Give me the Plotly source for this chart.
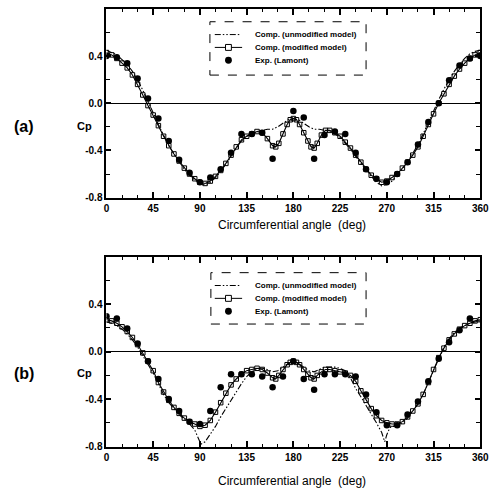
import plotly.graph_objects as go

# ---------------- data: panel (a) ----------------
exp_a_x = [0, 10, 20, 30, 40, 50, 60, 70, 80, 90, 100, 110, 120, 130, 140, 150, 160,
           180, 190, 200, 210, 220, 230, 240, 250, 260, 270, 280, 290, 300, 310, 320,
           330, 340, 350, 360]
exp_a_y = [0.40, 0.39, 0.34, 0.21, 0.04, -0.13, -0.32, -0.48, -0.59, -0.67, -0.63, -0.56,
           -0.42, -0.26, -0.26, -0.25, -0.47, -0.065, -0.12, -0.47, -0.27, -0.24, -0.26,
           -0.42, -0.56, -0.64, -0.67, -0.60, -0.50, -0.35, -0.16, 0.0, 0.195, 0.32, 0.38, 0.40]

mod_a_x = [0, 5, 10, 15, 20, 25, 30, 35, 40, 45, 50, 55, 60, 65, 70, 75, 80, 85, 90, 95,
           100, 105, 110, 115, 120, 125, 130, 135, 140, 145, 150, 155, 160, 163, 166, 170,
           174, 177, 180, 183, 186, 190, 194, 197, 200, 203, 207, 211, 215, 220, 225, 230,
           235, 240, 245, 250, 255, 260, 265, 270, 275, 280, 285, 290, 295, 300, 305, 310,
           315, 320, 325, 330, 335, 340, 345, 350, 355, 360]
mod_a_y = [0.43, 0.41, 0.38, 0.34, 0.30, 0.24, 0.16, 0.07, -0.02, -0.10, -0.19, -0.28,
           -0.36, -0.43, -0.49, -0.55, -0.60, -0.64, -0.67, -0.68, -0.66, -0.62, -0.57,
           -0.51, -0.44, -0.37, -0.31, -0.28, -0.26, -0.24, -0.25, -0.30, -0.36, -0.37,
           -0.34, -0.26, -0.18, -0.14, -0.13, -0.14, -0.18, -0.25, -0.32, -0.37, -0.38,
           -0.34, -0.27, -0.23, -0.23, -0.25, -0.28, -0.33, -0.38, -0.44, -0.50, -0.56,
           -0.61, -0.64, -0.67, -0.66, -0.63, -0.60, -0.55, -0.50, -0.44, -0.37, -0.28,
           -0.18, -0.09, 0.00, 0.08, 0.16, 0.23, 0.29, 0.34, 0.38, 0.41, 0.43]

unm_a_x = [0, 5, 10, 15, 20, 25, 30, 35, 40, 45, 50, 55, 60, 65, 70, 75, 80, 85, 90, 95,
           100, 105, 110, 115, 120, 125, 130, 135, 140, 145, 150, 155, 160, 165, 170, 175,
           180, 185, 190, 195, 200, 205, 210, 215, 220, 225, 230, 235, 240, 245, 250, 255,
           260, 265, 270, 275, 280, 285, 290, 295, 300, 305, 310, 315, 320, 325, 330, 335,
           340, 345, 350, 355, 360]
unm_a_y = [0.45, 0.43, 0.41, 0.37, 0.33, 0.27, 0.20, 0.11, 0.02, -0.08, -0.18, -0.27,
           -0.36, -0.43, -0.50, -0.56, -0.61, -0.65, -0.68, -0.69, -0.67, -0.63, -0.58,
           -0.52, -0.45, -0.38, -0.32, -0.28, -0.26, -0.24, -0.23, -0.22, -0.22, -0.20,
           -0.17, -0.14, -0.13, -0.14, -0.17, -0.20, -0.22, -0.22, -0.23, -0.24, -0.26,
           -0.29, -0.34, -0.39, -0.45, -0.51, -0.57, -0.62, -0.67, -0.70, -0.69, -0.66,
           -0.61, -0.56, -0.50, -0.43, -0.35, -0.26, -0.16, -0.06, 0.03, 0.12, 0.20, 0.27,
           0.33, 0.38, 0.42, 0.44, 0.45]

# ---------------- data: panel (b) ----------------
exp_b_x = [0, 10, 20, 30, 40, 50, 60, 70, 80, 90, 100, 110, 120, 130, 140, 150, 160, 170,
           180, 190, 200, 210, 220, 230, 240, 250, 260, 270, 280, 290, 300, 310, 320, 330,
           340, 350]
exp_b_y = [0.30, 0.28, 0.195, 0.07, -0.08, -0.23, -0.40, -0.50, -0.59, -0.61, -0.50, -0.30,
           -0.19, -0.19, -0.19, -0.21, -0.30, -0.21, -0.08, -0.23, -0.32, -0.19, -0.19,
           -0.19, -0.21, -0.36, -0.51, -0.62, -0.62, -0.53, -0.42, -0.25, -0.06, 0.08,
           0.18, 0.28]

mod_b_x = mod_a_x
mod_b_y = [0.27, 0.26, 0.24, 0.21, 0.17, 0.12, 0.06, -0.01, -0.08, -0.16, -0.26, -0.34,
           -0.41, -0.47, -0.52, -0.56, -0.59, -0.61, -0.63, -0.62, -0.58, -0.51, -0.43,
           -0.35, -0.28, -0.23, -0.19, -0.16, -0.15, -0.14, -0.15, -0.18, -0.22, -0.23,
           -0.20, -0.15, -0.11, -0.09, -0.08, -0.09, -0.11, -0.15, -0.19, -0.22, -0.23,
           -0.20, -0.17, -0.15, -0.15, -0.16, -0.17, -0.18, -0.20, -0.25, -0.33, -0.41,
           -0.48, -0.54, -0.58, -0.60, -0.61, -0.61, -0.59, -0.55, -0.50, -0.44, -0.36,
           -0.26, -0.15, -0.05, 0.03, 0.10, 0.15, 0.19, 0.22, 0.24, 0.26, 0.27]

unm_b_x = [0, 5, 10, 15, 20, 25, 30, 35, 40, 45, 50, 55, 60, 65, 70, 75, 80, 85, 88, 91,
           95, 100, 105, 110, 115, 120, 125, 130, 135, 140, 145, 150, 155, 160, 165, 170,
           175, 180, 185, 190, 195, 200, 205, 210, 215, 220, 225, 230, 235, 240, 245, 250,
           255, 260, 265, 268, 270, 273, 280, 285, 290, 295, 300, 305, 310, 315, 320, 325,
           330, 335, 340, 345, 350, 355, 360]
unm_b_y = [0.25, 0.24, 0.22, 0.19, 0.15, 0.10, 0.04, -0.03, -0.10, -0.18, -0.27, -0.36,
           -0.43, -0.48, -0.53, -0.57, -0.61, -0.66, -0.72, -0.78, -0.76, -0.70, -0.63,
           -0.55, -0.48, -0.40, -0.33, -0.27, -0.21, -0.17, -0.14, -0.14, -0.15, -0.17,
           -0.16, -0.13, -0.10, -0.08, -0.10, -0.13, -0.16, -0.17, -0.15, -0.13, -0.13,
           -0.13, -0.14, -0.16, -0.22, -0.31, -0.38, -0.45, -0.53, -0.60, -0.68, -0.76,
           -0.70, -0.64, -0.62, -0.60, -0.56, -0.50, -0.44, -0.36, -0.26, -0.15, -0.05,
           0.04, 0.11, 0.16, 0.20, 0.22, 0.24, 0.25, 0.26]

x_ticks = [0, 45, 90, 135, 180, 225, 270, 315, 360]
y_ticks = [-0.8, -0.4, 0.0, 0.4]
y_labels = ["-0.8", "-0.4", "0.0", "0.4"]
names = ["Comp. (unmodified model)", "Comp. (modified model)", "Exp. (Lamont)"]

W, H = 500, 497
FONT = "Liberation Sans"
DASHDOT = "6px,2px,1.5px,2px,1.5px,2px"


def px(v):
    return v / W


def py(v):
    return 1 - v / H


fig = go.Figure()

panels = [
    ("x", "y", unm_a_x, unm_a_y, mod_a_x, mod_a_y, exp_a_x, exp_a_y),
    ("x2", "y2", unm_b_x, unm_b_y, mod_b_x, mod_b_y, exp_b_x, exp_b_y),
]
for xa, ya, ux, uy, mx, my, ex, ey in panels:
    fig.add_trace(go.Scatter(x=ux, y=uy, mode="lines", name=names[0], showlegend=False,
                             xaxis=xa, yaxis=ya,
                             line=dict(color="black", width=1.1, dash=DASHDOT)))
    fig.add_trace(go.Scatter(x=mx, y=my, mode="lines+markers", name=names[1],
                             showlegend=False, xaxis=xa, yaxis=ya,
                             line=dict(color="black", width=1.1),
                             marker=dict(symbol="square-open", size=4.5, color="black",
                                         line=dict(width=1, color="black"))))
    fig.add_trace(go.Scatter(x=ex, y=ey, mode="markers", name=names[2], showlegend=False,
                             xaxis=xa, yaxis=ya,
                             marker=dict(symbol="circle", size=6.5, color="black")))

xcommon = dict(range=[0, 360], tickvals=x_ticks, ticks="inside", ticklen=6, tickwidth=1.5,
               tickcolor="black", showline=True, linewidth=2, linecolor="black",
               mirror="ticks", showgrid=False, zeroline=False, ticklabeloverflow="allow",
               minor=dict(dtick=15, tick0=0, ticks="inside", ticklen=3, tickwidth=1,
                          tickcolor="black", showgrid=False),
               tickfont=dict(family=FONT, size=10, color="black", weight="bold"))
ycommon = dict(range=[-0.8, 0.8], tickvals=y_ticks, ticktext=y_labels, ticks="inside",
               ticklen=5, tickwidth=1.5, tickcolor="black", showline=True, linewidth=2,
               linecolor="black", mirror="ticks", showgrid=False, zeroline=True,
               zerolinecolor="black", zerolinewidth=1,
               minor=dict(dtick=0.2, tick0=0, ticks="inside", ticklen=4, tickwidth=1,
                          tickcolor="black", showgrid=False),
               tickfont=dict(family=FONT, size=10, color="black", weight="bold"))

top_dom = [py(200), py(9)]
bot_dom = [py(452), py(260)]
xdom = [px(106), px(489)]

fig.update_layout(
    width=W, height=H, margin=dict(l=0, r=0, t=0, b=0),
    paper_bgcolor="white", plot_bgcolor="white", showlegend=False,
    xaxis=dict(domain=xdom, anchor="y", **xcommon),
    yaxis=dict(domain=top_dom, anchor="x", **ycommon),
    xaxis2=dict(domain=xdom, anchor="y2", **xcommon),
    yaxis2=dict(domain=bot_dom, anchor="x2", **ycommon),
)

# legends (drawn as keys + text inside dashed boxes)
legend_boxes = [(212, 22, 372, 76, [35, 48, 61]), (213, 276, 372, 328, [289, 302, 315])]
for (x0, y0, x1, y1, rows) in legend_boxes:
    fig.add_shape(type="rect", xref="paper", yref="paper",
                  x0=px(x0), x1=px(x1), y0=py(y1), y1=py(y0),
                  line=dict(color="black", width=1, dash="dash"))
    # key 1: dash-dot line
    fig.add_shape(type="line", xref="paper", yref="paper",
                  x0=px(217), x1=px(244), y0=py(rows[0]), y1=py(rows[0]),
                  line=dict(color="black", width=1, dash=DASHDOT))
    # key 2: solid line with open square
    fig.add_shape(type="line", xref="paper", yref="paper",
                  x0=px(217), x1=px(245), y0=py(rows[1]), y1=py(rows[1]),
                  line=dict(color="black", width=1))
    fig.add_shape(type="rect", xref="paper", yref="paper",
                  x0=px(228), x1=px(234), y0=py(rows[1] + 3), y1=py(rows[1] - 3),
                  fillcolor="white", line=dict(color="black", width=1))
    # key 3: filled circle
    fig.add_shape(type="circle", xref="paper", yref="paper",
                  x0=px(227.5), x1=px(234.5), y0=py(rows[2] + 3.5), y1=py(rows[2] - 3.5),
                  fillcolor="black", line=dict(color="black", width=0))
    for name, ry in zip(names, rows):
        fig.add_annotation(text=name, x=px(256), y=py(ry), xref="paper", yref="paper",
                           xanchor="left", yanchor="middle", showarrow=False,
                           font=dict(family=FONT, size=8, color="black", weight="bold"))

annos = [
    ("(a)", 22, 128, 16), ("(b)", 22, 378, 16),
    ("Cp", 84, 128, 11), ("Cp", 84, 378, 11),
]
for t, xx, yy, s in annos:
    fig.add_annotation(text=t, x=px(xx), y=py(yy), xref="paper", yref="paper",
                       xanchor="center", yanchor="middle", showarrow=False,
                       font=dict(family=FONT, size=s, color="black", weight="bold"))
for yy in (228, 487):
    fig.add_annotation(text="Circumferential angle  (deg)", x=px(296), y=py(yy),
                       xref="paper", yref="paper", xanchor="center", yanchor="middle",
                       showarrow=False, font=dict(family=FONT, size=12, color="black"))

fig.write_html("out.html", config={"displayModeBar": False},
               post_script="document.body.style.margin='0';"
                           "document.body.style.overflow='hidden';")
